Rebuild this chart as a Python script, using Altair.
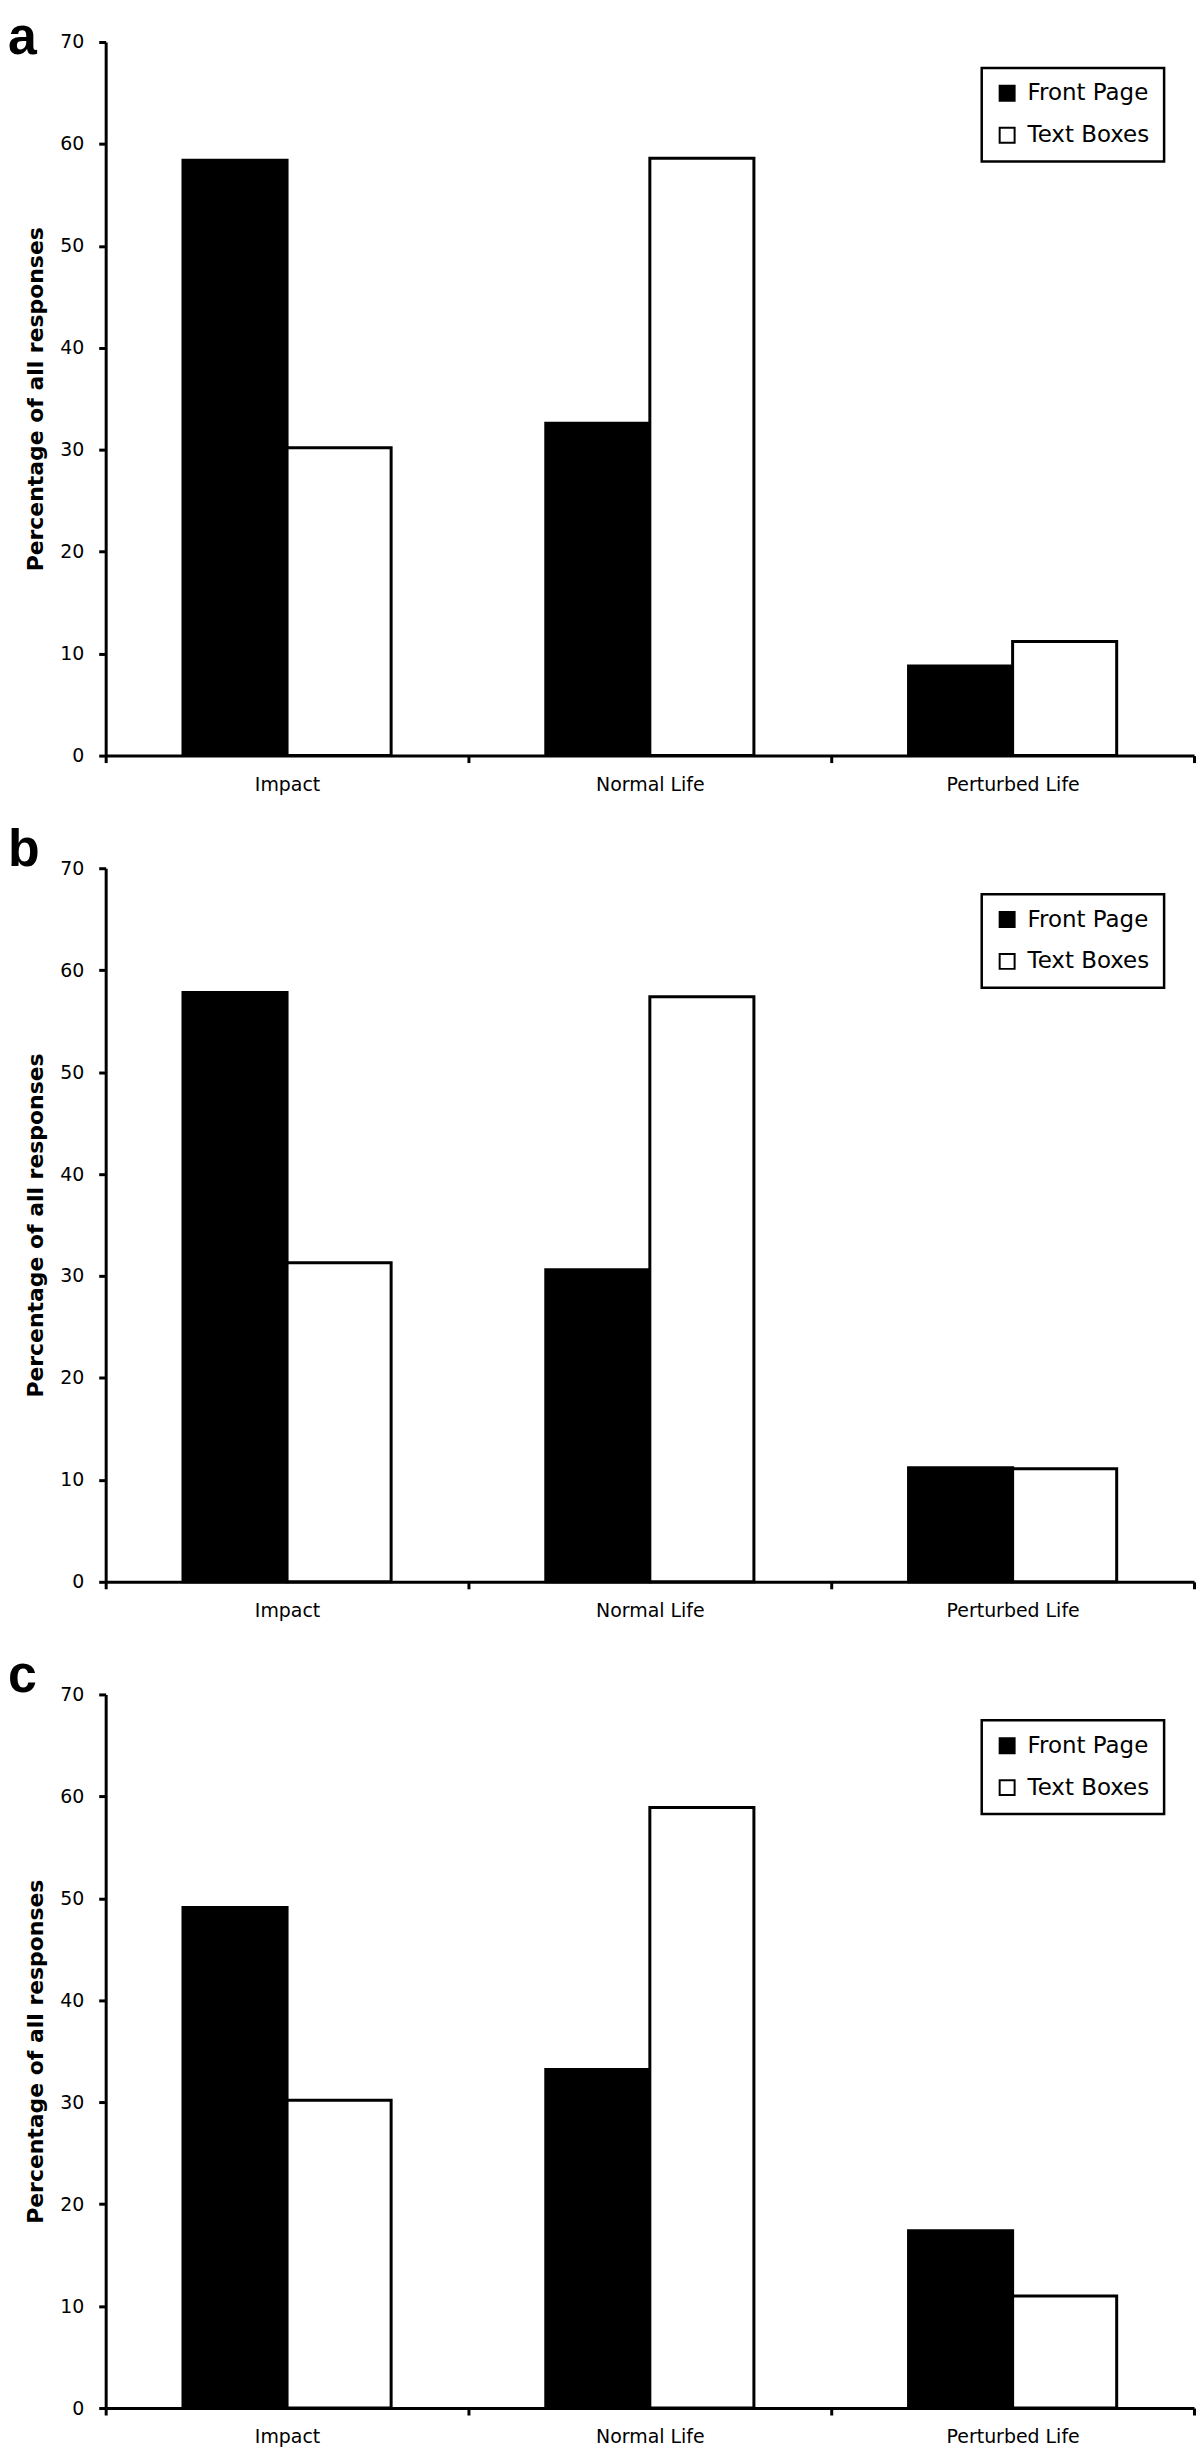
import altair as alt
import pandas as pd

categories = ["Impact", "Normal Life", "Perturbed Life"]
series_names = ["Front Page", "Text Boxes"]
panel_letters = ["a", "b", "c"]
y_title = "Percentage of all responses"
y_ticks = [0, 10, 20, 30, 40, 50, 60, 70]

a_front_page = [58.4, 32.6, 8.8]
a_text_boxes = [30.2, 58.6, 11.2]
b_front_page = [57.8, 30.6, 11.2]
b_text_boxes = [31.3, 57.4, 11.1]
c_front_page = [49.1, 33.2, 17.4]
c_text_boxes = [30.2, 58.9, 11.0]

W = 1092
H = 716
FONT = "DejaVu Sans"


def panel(letter, front, text, letter_y):
    rows = []
    for cat, f, t in zip(categories, front, text):
        rows.append({"category": cat, "series": series_names[0], "value": f})
        rows.append({"category": cat, "series": series_names[1], "value": t})
    df = pd.DataFrame(rows)
    bars = alt.Chart(df).mark_bar(stroke="black", strokeWidth=3).encode(
        x=alt.X(
            "category:N",
            sort=categories,
            scale=alt.Scale(paddingInner=0, paddingOuter=0),
            axis=alt.Axis(
                title=None,
                labelAngle=0,
                tickBand="extent",
                labelPadding=13,
                labelFontSize=19,
            ),
        ),
        xOffset=alt.XOffset(
            "series:N",
            sort=series_names,
            scale=alt.Scale(paddingInner=0, paddingOuter=0.743),
        ),
        y=alt.Y(
            "value:Q",
            scale=alt.Scale(domain=[0, 70], nice=False),
            axis=alt.Axis(
                title=y_title,
                values=y_ticks,
                labelPadding=15,
                labelFontSize=19,
                titleFont=FONT,
                titleFontWeight="bold",
                titleFontSize=22,
                titleColor="black",
                titlePadding=12,
            ),
        ),
        fill=alt.Fill(
            "series:N",
            sort=series_names,
            scale=alt.Scale(domain=series_names, range=["black", "white"]),
            legend=alt.Legend(
                title=None,
                orient="none",
                legendX=879,
                legendY=26,
                strokeColor="black",
                padding=14,
                rowPadding=18,
                symbolType="square",
                symbolSize=225,
                symbolStrokeColor="black",
                symbolStrokeWidth=2,
                labelFont=FONT,
                labelFontSize=23,
                labelColor="black",
                labelOffset=9,
            ),
        ),
    )
    lab = alt.Chart(pd.DataFrame({"letter": [letter]})).mark_text(
        align="left",
        baseline="alphabetic",
        font="Liberation Sans",
        fontWeight="bold",
        fontSize=52,
        color="black",
    ).encode(x=alt.value(-98), y=alt.value(letter_y), text="letter:N")
    return alt.layer(bars, lab).properties(width=W, height=H)


pa = panel(panel_letters[0], a_front_page, a_text_boxes, 12)
pb = panel(panel_letters[1], b_front_page, b_text_boxes, -2)
pc = panel(panel_letters[2], c_front_page, c_text_boxes, -2)

chart = (
    alt.vconcat(pa, pb, pc, spacing=30)
    .resolve_scale(fill="independent")
    .resolve_legend(fill="independent")
    .properties(padding={"left": 0, "top": 0, "right": 0, "bottom": 0})
    .configure_view(stroke=None)
    .configure_axis(
        grid=False,
        domainColor="black",
        domainWidth=3,
        tickColor="black",
        tickWidth=3,
        tickSize=7,
        labelFont=FONT,
        labelColor="black",
    )
    .configure_legend(strokeWidth=2.5)
)

chart.save("out.html", embed_options={"renderer": "svg", "actions": False})
